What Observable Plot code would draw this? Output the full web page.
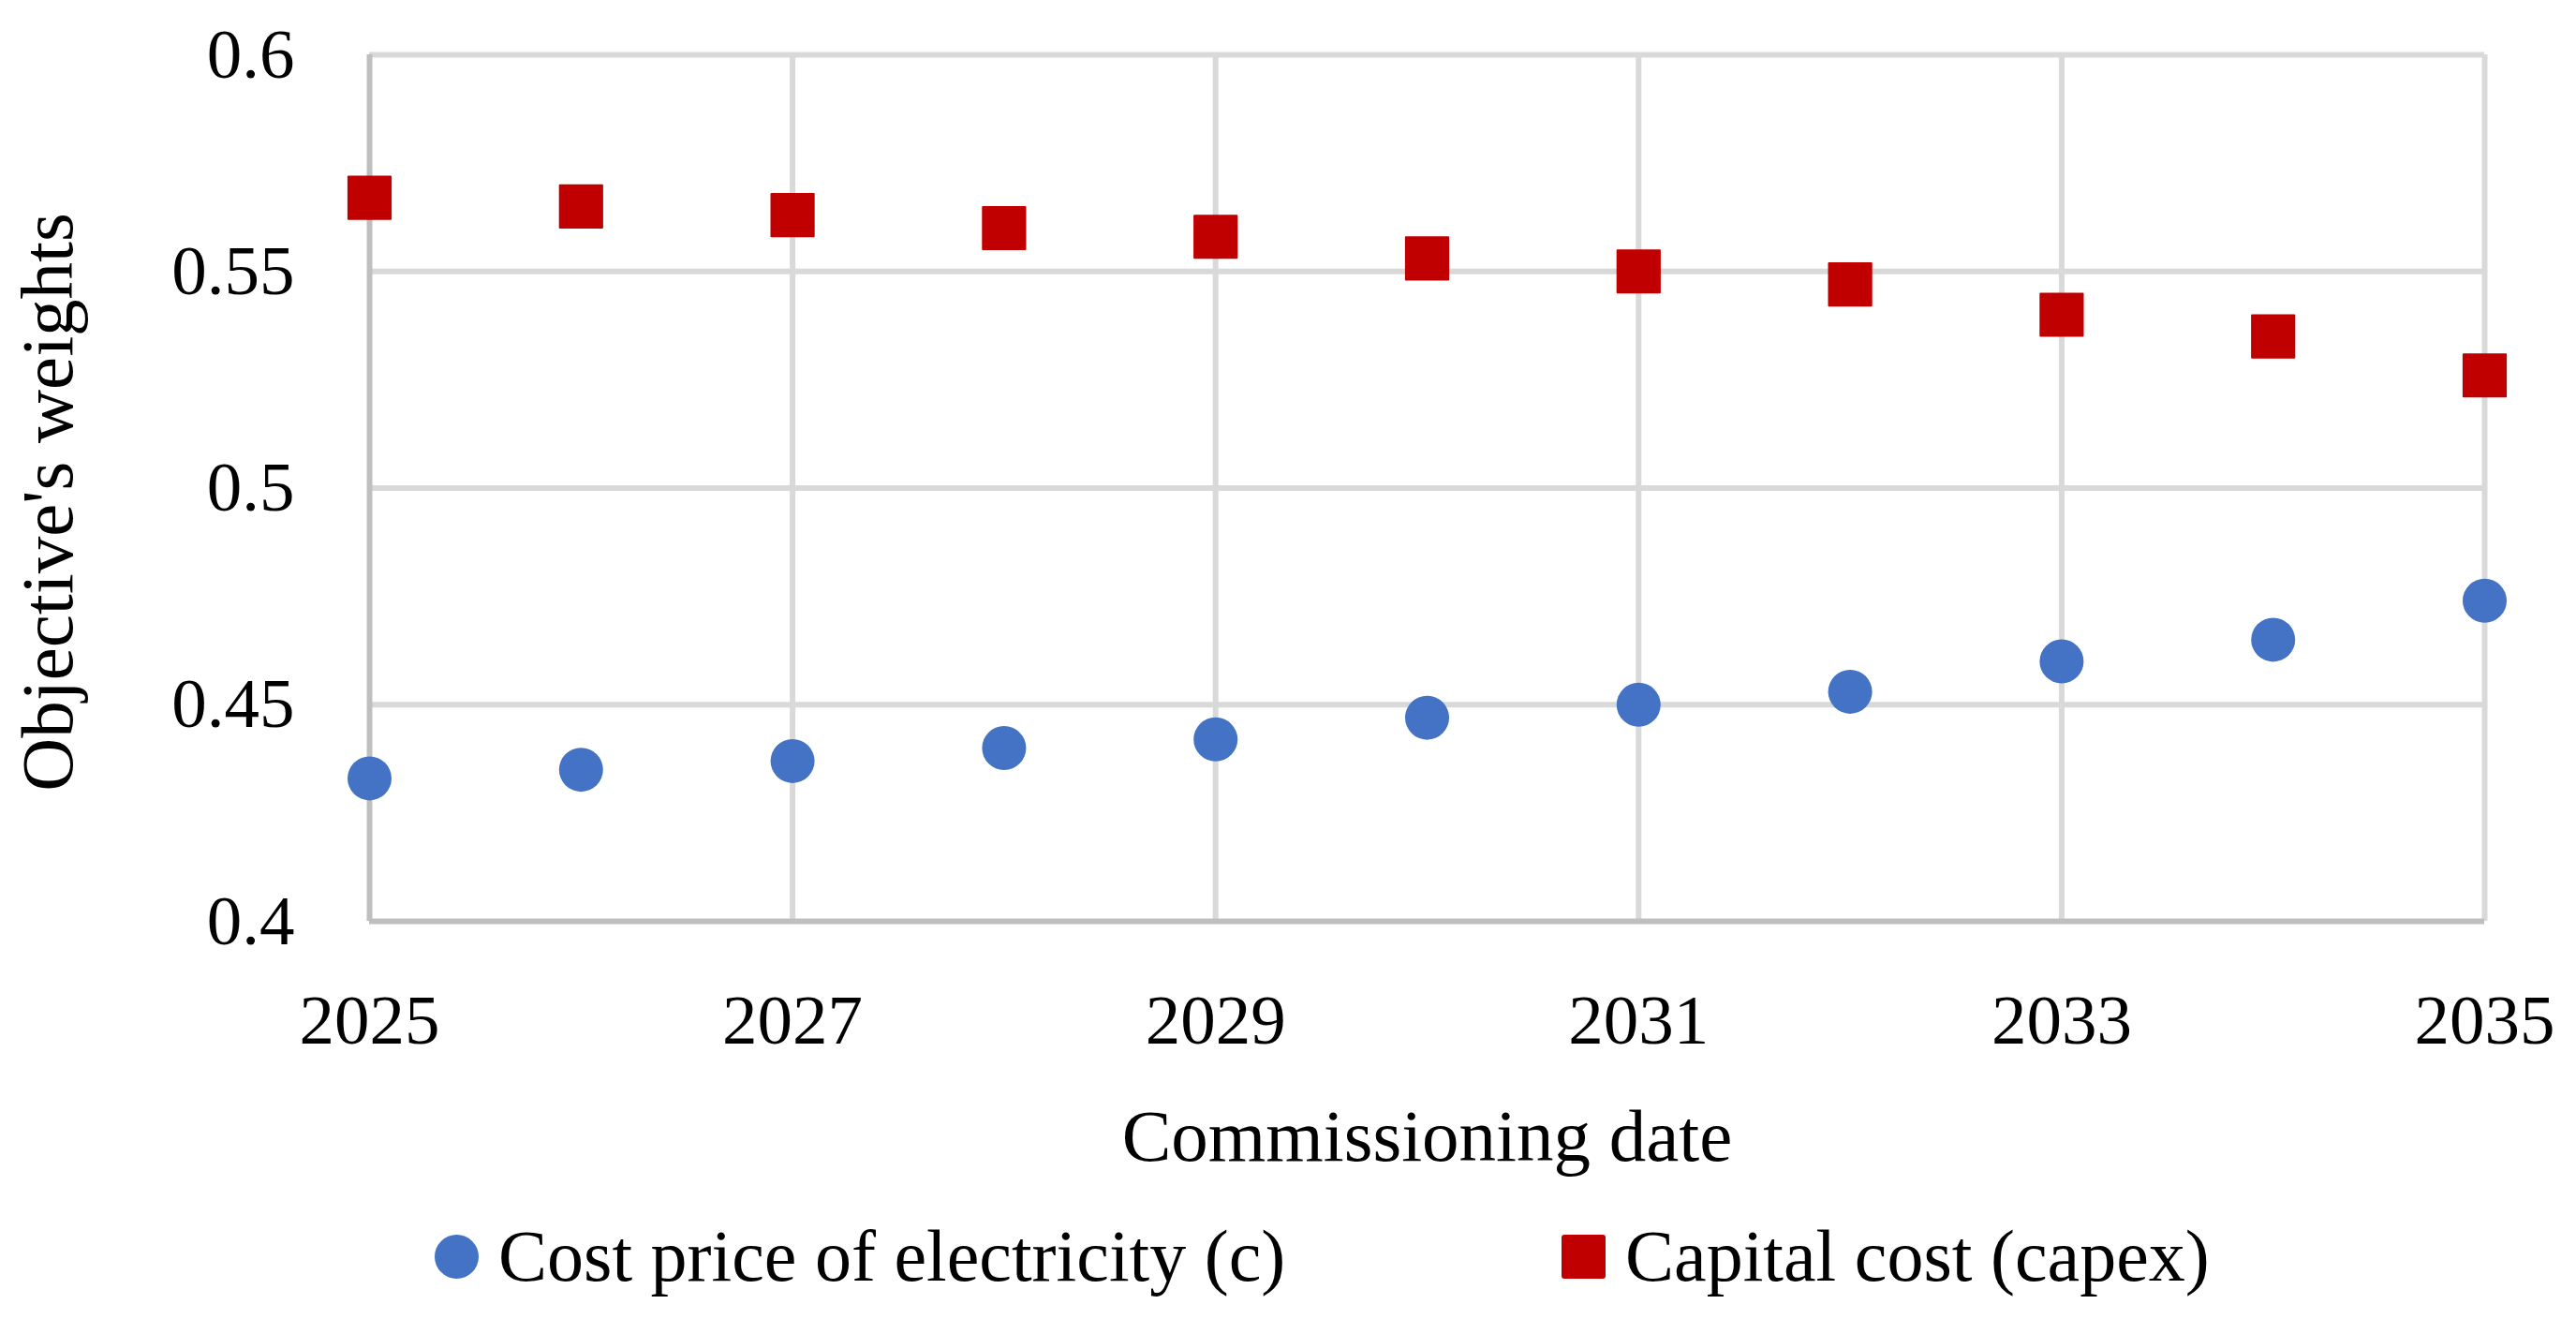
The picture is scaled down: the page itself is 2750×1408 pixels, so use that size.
<!DOCTYPE html>
<html>
<head>
<meta charset="utf-8">
<script src="https://cdn.jsdelivr.net/npm/d3@7"></script>
<script src="https://cdn.jsdelivr.net/npm/@observablehq/plot@0.6"></script>
<style>
  html, body { margin: 0; padding: 0; background: white; }
  #wrap { position: relative; width: 2750px; height: 1408px; font-family: "Liberation Serif", serif; }
  .leg { position: absolute; top: 1299px; height: 84px; display: flex; align-items: center; font-size: 78px; line-height: 84px; color: black; white-space: nowrap; }
  .sw { width: 47px; height: 47px; margin-right: 21px; flex: none; }
</style>
</head>
<body>
<div id="wrap"></div>
<script>
// ---- data ----
const years = [2025, 2026, 2027, 2028, 2029, 2030, 2031, 2032, 2033, 2034, 2035];
const costPrice = [0.433, 0.435, 0.437, 0.440, 0.442, 0.447, 0.450, 0.453, 0.460, 0.465, 0.474];
const capex = [0.567, 0.565, 0.563, 0.560, 0.558, 0.553, 0.550, 0.547, 0.540, 0.535, 0.526];
const xTicks = [2025, 2027, 2029, 2031, 2033, 2035];
const yTicks = [0.4, 0.45, 0.5, 0.55, 0.6];
const seriesNames = ["Cost price of electricity (c)", "Capital cost (capex)"];
const xLabel = "Commissioning date";
const yLabel = "Objective's weights";

const table = years.map((year, i) => ({year, c: costPrice[i], capex: capex[i]}));

const blue = "#4472c4", red = "#c00000";

const chart = Plot.plot({
  width: 2750,
  height: 1290,
  marginLeft: 394,
  marginRight: 98,
  marginTop: 58,
  marginBottom: 307,
  style: {fontFamily: "Liberation Serif", fontSize: "75px", color: "black", background: "white", overflow: "visible"},
  x: {domain: [2025, 2035], ticks: xTicks, tickFormat: d => String(d), tickSize: 0, tickPadding: 77, label: null},
  y: {domain: [0.4, 0.6], ticks: yTicks, tickFormat: d => String(d), tickSize: 0, tickPadding: 80, label: null},
  marks: [
    Plot.ruleY(yTicks.slice(1), {stroke: "#d9d9d9", strokeWidth: 6}),
    Plot.ruleX(xTicks.slice(1), {stroke: "#d9d9d9", strokeWidth: 6}),
    Plot.ruleX([xTicks[0]], {stroke: "#bfbfbf", strokeWidth: 6}),
    Plot.ruleY([yTicks[0]], {stroke: "#bfbfbf", strokeWidth: 6}),
    Plot.dot(table, {x: "year", y: "c", r: 23.5, symbol: "circle", fill: blue}),
    Plot.dot(table, {x: "year", y: "capex", r: 25.5, symbol: "square", fill: red, stroke: red, strokeWidth: 2, strokeLinejoin: "round"}),
    Plot.text([xLabel], {frameAnchor: "bottom", textAnchor: "middle", lineAnchor: "middle", dy: 230, fontSize: 79, fill: "black"}),
    Plot.text([yLabel], {frameAnchor: "left", textAnchor: "middle", lineAnchor: "middle", rotate: -90, dx: -343, dy: 15, fontSize: 79, fill: "black"})
  ]
});

const wrap = document.getElementById("wrap");
wrap.appendChild(chart);

const legendItems = [
  {name: seriesNames[0], color: blue, shape: "circle", left: 464},
  {name: seriesNames[1], color: red, shape: "square", left: 1667}
];
for (const it of legendItems) {
  const d = document.createElement("div");
  d.className = "leg";
  d.style.left = it.left + "px";
  const sw = document.createElement("div");
  sw.className = "sw";
  sw.style.background = it.color;
  sw.style.borderRadius = it.shape === "circle" ? "50%" : "3px";
  const t = document.createElement("span");
  t.textContent = it.name;
  d.appendChild(sw);
  d.appendChild(t);
  wrap.appendChild(d);
}
</script>
</body>
</html>
